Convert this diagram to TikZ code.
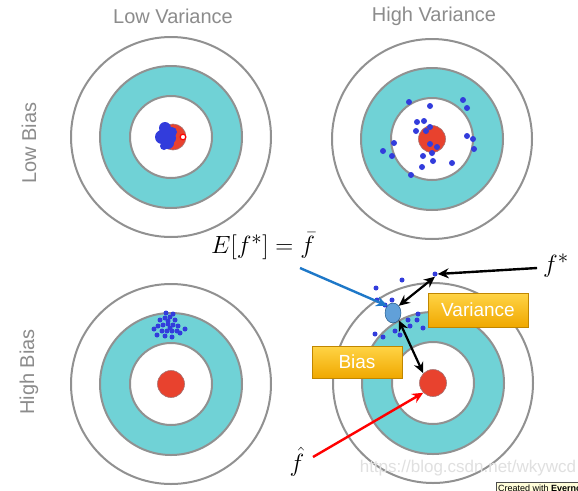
\documentclass[tikz,border=0pt]{standalone}
\usepackage{fontspec}
\setsansfont{Liberation Sans}
\usetikzlibrary{arrows.meta,shapes.geometric}
\definecolor{ringgray}{RGB}{145,145,145}
\definecolor{teal}{RGB}{112,210,214}
\definecolor{bullred}{RGB}{232,66,46}
\definecolor{dotblue}{RGB}{50,60,220}
\definecolor{labgray}{RGB}{140,140,140}
\definecolor{goldtop}{RGB}{255,212,70}
\definecolor{goldbot}{RGB}{240,168,0}
\definecolor{arrblue}{RGB}{30,120,200}
\begin{document}
\begin{tikzpicture}[x=1pt,y=-1pt,
  ring/.style={draw=ringgray,line width=2pt},
  dotb/.style={circle,fill=dotblue,inner sep=0pt,minimum size=6pt},
  bull/.style={circle,fill=bullred,draw=ringgray!80!red,line width=0.6pt,inner sep=0pt,minimum size=27pt},
  axislab/.style={font=\sffamily\fontsize{20}{20}\selectfont,text=labgray},
  goldbox/.style={draw=goldbot!80!black,line width=0.5pt,top color=goldtop,bottom color=goldbot,text=white,font=\sffamily\fontsize{19}{19}\selectfont,inner sep=0pt},
  dbl/.style={{Stealth[length=11pt,width=10pt]}-{Stealth[length=11pt,width=10pt]},line width=2.2pt,black},
  sgl/.style={-{Stealth[length=11pt,width=10pt]},line width=2.4pt}
]
\useasboundingbox (0,0) rectangle (578,490);
\fill[white] (0,0) rectangle (578,490);
% targets
\foreach \cx/\cy/\nm in {171/137/tl,432/139/tr,171/384/bl,433/383/br}{
  \fill[white] (\cx,\cy) circle (100);
  \draw[ring] (\cx,\cy) circle (100);
  \fill[teal] (\cx,\cy) circle (71);
  \draw[ring] (\cx,\cy) circle (71);
  \fill[white] (\cx,\cy) circle (41);
  \draw[ring] (\cx,\cy) circle (41);
  \coordinate (\nm) at (\cx,\cy);
}
% axis labels
\node[axislab] (lv) at (173,16) {Low Variance};
\node[axislab] (hv) at (434,16) {High Variance};
\node[axislab,rotate=90] (lb) at (29,143) {Low Bias};
\node[axislab,rotate=90] (hb) at (29,372) {High Bias};
% top-left: low bias low variance
\node[bull,minimum size=26pt] (tlbull) at (173,137) {};
\fill[dotblue] (165,128) circle (6) (162,137) circle (7) (168,143) circle (6) (172,132) circle (5) (170,138) circle (6) (164,146) circle (4);
\draw[red,line width=1.2pt,fill=white] (183,137) circle (2.8);
% top-right: low bias high variance
\node[bull] (trbull) at (432,139) {};
\foreach \x/\y in {409/102,430/106,463/100,467/108,417/122,424/121,416/131,426/131,430/127,394/143,383/151,392/156,467/136,473/139,474/149,430/144,437/147,432/153,423/156,433/161,422/167,452/163,411/175}
  \node[dotb] at (\x,\y) {};
% bottom-left: high bias low variance
\node[bull] (blbull) at (171,384) {};
\foreach \x/\y in {160/320,165/318,170/317,175/320,158/326,163/325,168/324,173/325,178/326,162/331,167/331,172/331,177/331,157/335,165/336,172/337,180/333,185/329,154/329,168/321,170/328,166/313,173/314}
  \node[dotb,minimum size=5pt] at (\x,\y) {};
% bottom-right: annotated
\node[bull] (brbull) at (433,383) {};
\foreach \x/\y in {402/280,376/288,377/300,392/300,385/305,408/320,418/314,423/328,395/331,400/335,375/334,383/337,410/326,417/320}
  \node[dotb,minimum size=5pt] at (\x,\y) {};
\node[dotb,minimum size=5pt] (fstar) at (435,274) {};
\node[ellipse,fill=arrblue!70!white,draw=arrblue!60!black,line width=0.4pt,minimum width=16pt,minimum height=20pt,inner sep=0pt] (fbar) at (393,313) {};
% boxes
\node[goldbox,minimum width=100pt,minimum height=34pt] (var) at (478,310) {Variance};
\node[goldbox,minimum width=90pt,minimum height=32pt] (bias) at (357,362) {Bias};
% math labels
\node[font=\fontsize{28}{28}\selectfont,inner sep=0pt] (ef) at (263,246) {$E[f^*]=\bar{f}$};
\node[font=\fontsize{28}{28}\selectfont,inner sep=0pt] (fs) at (556,266) {$f^*$};
\node[font=\fontsize{28}{28}\selectfont,inner sep=0pt] (fh) at (297,462) {$\hat{f}$};
% arrows
\coordinate (ebeg) at (300,268);
\draw[sgl,arrblue] (ebeg) -- (fbar.north west);
\draw[sgl,black] (fs.west) ++(-6,2) coordinate (fsw) -- (fstar.east);
\draw[dbl] (fbar.north east) -- (fstar.south);
\draw[dbl] (fbar.south east) -- (brbull.north west);
\coordinate (hbeg) at (313,457);
\draw[sgl,red] (hbeg) -- (brbull.south west);
% watermark
\node[font=\sffamily\fontsize{17}{17}\selectfont,text=black!12] (wm) at (468,468) {https://blog.csdn.net/wkywcd};
\begin{scope}
\clip (0,0) rectangle (578,490);
\node[draw=black!70,fill=yellow!15,anchor=north west,font=\sffamily\fontsize{9}{9}\selectfont,inner sep=2pt,minimum height=12pt] (ev) at (496,482) {Created with \textbf{Evernote}};
\end{scope}
\end{tikzpicture}
\end{document}
